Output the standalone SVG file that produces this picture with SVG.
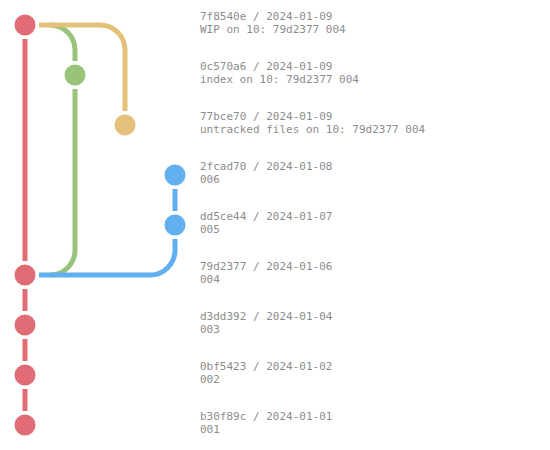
<svg xmlns="http://www.w3.org/2000/svg" width="550" height="450" viewBox="0 0 550 450">
  <style>
    .edge { fill: none; stroke-width: 5; }
    .red { stroke: #e06c75; }
    .green { stroke: #98c379; }
    .yellow { stroke: #e5c07b; }
    .blue { stroke: #61afef; }
    .dot-red { fill: #e06c75; }
    .dot-green { fill: #98c379; }
    .dot-yellow { fill: #e5c07b; }
    .dot-blue { fill: #61afef; }
    text { font-family: "DejaVu Sans Mono", "Liberation Mono", monospace; font-size: 11px; fill: #8c8c8c; }
  </style>
  <rect width="550" height="450" fill="#ffffff"/>
  <g id="connectors">
    <!-- main branch -->
    <path class="edge red" d="M25 39 V261"/>
    <path class="edge red" d="M25 289 V311"/>
    <path class="edge red" d="M25 339 V361"/>
    <path class="edge red" d="M25 389 V411"/>
    <!-- stash index commit -->
    <path class="edge green" d="M50 25 A25 25 0 0 1 75 50 V61"/>
    <path class="edge green" d="M75 89 V250 A25 25 0 0 1 50 275"/>
    <!-- stash untracked commit -->
    <path class="edge yellow" d="M39 25 H100 A25 25 0 0 1 125 50 V111"/>
    <!-- feature branch -->
    <path class="edge blue" d="M175 189 V211"/>
    <path class="edge blue" d="M175 239 V250 A25 25 0 0 1 150 275 H39"/>
  </g>
  <g id="n7f8540e"><circle class="dot-red" cx="25" cy="25" r="10.5"/><text x="200" y="20">7f8540e / 2024-01-09</text><text x="200" y="33">WIP on 10: 79d2377 004</text></g>
  <g id="n0c570a6"><circle class="dot-green" cx="75" cy="75" r="10.5"/><text x="200" y="70">0c570a6 / 2024-01-09</text><text x="200" y="83">index on 10: 79d2377 004</text></g>
  <g id="n77bce70"><circle class="dot-yellow" cx="125" cy="125" r="10.5"/><text x="200" y="120">77bce70 / 2024-01-09</text><text x="200" y="133">untracked files on 10: 79d2377 004</text></g>
  <g id="n2fcad70"><circle class="dot-blue" cx="175" cy="175" r="10.5"/><text x="200" y="170">2fcad70 / 2024-01-08</text><text x="200" y="183">006</text></g>
  <g id="ndd5ce44"><circle class="dot-blue" cx="175" cy="225" r="10.5"/><text x="200" y="220">dd5ce44 / 2024-01-07</text><text x="200" y="233">005</text></g>
  <g id="n79d2377"><circle class="dot-red" cx="25" cy="275" r="10.5"/><text x="200" y="270">79d2377 / 2024-01-06</text><text x="200" y="283">004</text></g>
  <g id="nd3dd392"><circle class="dot-red" cx="25" cy="325" r="10.5"/><text x="200" y="320">d3dd392 / 2024-01-04</text><text x="200" y="333">003</text></g>
  <g id="n0bf5423"><circle class="dot-red" cx="25" cy="375" r="10.5"/><text x="200" y="370">0bf5423 / 2024-01-02</text><text x="200" y="383">002</text></g>
  <g id="nb30f89c"><circle class="dot-red" cx="25" cy="425" r="10.5"/><text x="200" y="420">b30f89c / 2024-01-01</text><text x="200" y="433">001</text></g>
</svg>
